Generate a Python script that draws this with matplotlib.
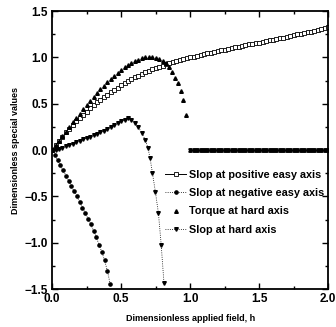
import matplotlib
matplotlib.use("Agg")
import matplotlib.pyplot as plt
from matplotlib.ticker import MultipleLocator

plt.rcParams['font.family'] = ['Liberation Sans', 'DejaVu Sans']
plt.rcParams['font.weight'] = 'bold'

# Slop at positive easy axis
pos_h = [0.000, 0.025, 0.050, 0.075, 0.100, 0.125, 0.150, 0.175, 0.200, 0.225,
         0.250, 0.275, 0.300, 0.325, 0.350, 0.375, 0.400, 0.425, 0.450, 0.475,
         0.500, 0.525, 0.550, 0.575, 0.600, 0.625, 0.650, 0.675, 0.700, 0.725,
         0.750, 0.775, 0.800, 0.825, 0.850, 0.875, 0.900, 0.925, 0.950, 0.975,
         1.000, 1.025, 1.050, 1.075, 1.100, 1.125, 1.150, 1.175, 1.200, 1.225,
         1.250, 1.275, 1.300, 1.325, 1.350, 1.375, 1.400, 1.425, 1.450, 1.475,
         1.500, 1.525, 1.550, 1.575, 1.600, 1.625, 1.650, 1.675, 1.700, 1.725,
         1.750, 1.775, 1.800, 1.825, 1.850, 1.875, 1.900, 1.925, 1.950, 1.975,
         2.000]
pos_v = [0.00, 0.05, 0.10, 0.14, 0.19, 0.23, 0.27, 0.31, 0.345, 0.38,
         0.415, 0.45, 0.485, 0.515, 0.545, 0.575, 0.60, 0.625, 0.65, 0.675,
         0.70, 0.72, 0.745, 0.765, 0.785, 0.805, 0.82, 0.84, 0.855, 0.87,
         0.885, 0.90, 0.91, 0.925, 0.935, 0.95, 0.96, 0.97, 0.98, 0.99,
         1.00, 1.01, 1.02, 1.025, 1.035, 1.045, 1.05, 1.06, 1.07, 1.075,
         1.085, 1.09, 1.10, 1.11, 1.115, 1.125, 1.13, 1.14, 1.145, 1.155,
         1.16, 1.17, 1.175, 1.185, 1.19, 1.20, 1.21, 1.215, 1.225, 1.23,
         1.24, 1.25, 1.255, 1.265, 1.27, 1.28, 1.29, 1.30, 1.31, 1.32,
         1.33]

# Slop at negative easy axis
neg_h = [0.00, 0.02, 0.04, 0.06, 0.08, 0.10, 0.12, 0.14, 0.16, 0.18, 0.20,
         0.22, 0.24, 0.26, 0.28, 0.30, 0.32, 0.34, 0.36, 0.38, 0.40, 0.42]
neg_v = [0.00, -0.05, -0.11, -0.165, -0.22, -0.275, -0.33, -0.39, -0.445, -0.50, -0.56,
         -0.62, -0.68, -0.74, -0.80, -0.87, -0.94, -1.02, -1.10, -1.19, -1.30, -1.44]

# Torque at hard axis
tor_h = [0.000, 0.025, 0.050, 0.075, 0.100, 0.125, 0.150, 0.175, 0.200, 0.225,
         0.250, 0.275, 0.300, 0.325, 0.350, 0.375, 0.400, 0.425, 0.450, 0.475,
         0.500, 0.525, 0.550, 0.575, 0.600, 0.625, 0.650, 0.675, 0.700, 0.725,
         0.750, 0.775, 0.800, 0.825, 0.850, 0.870, 0.890, 0.910, 0.935, 0.950, 0.970]
tor_v = [0.00, 0.05, 0.10, 0.15, 0.20, 0.25, 0.30, 0.345, 0.39, 0.44,
         0.485, 0.53, 0.57, 0.615, 0.655, 0.695, 0.735, 0.77, 0.805, 0.835,
         0.865, 0.895, 0.92, 0.94, 0.96, 0.975, 0.99, 1.00, 1.01, 1.005,
         0.995, 0.98, 0.96, 0.935, 0.90, 0.84, 0.78, 0.72, 0.64, 0.54, 0.38]
tail_h = [1.000, 1.025, 1.050, 1.075, 1.100, 1.125, 1.150, 1.175, 1.200, 1.225,
          1.250, 1.275, 1.300, 1.325, 1.350, 1.375, 1.400, 1.425, 1.450, 1.475,
          1.500, 1.525, 1.550, 1.575, 1.600, 1.625, 1.650, 1.675, 1.700, 1.725,
          1.750, 1.775, 1.800, 1.825, 1.850, 1.875, 1.900, 1.925, 1.950, 1.975,
          2.000]
tail_v = [0.0, 0.0, 0.0, 0.0, 0.0, 0.0, 0.0, 0.0, 0.0, 0.0,
          0.0, 0.0, 0.0, 0.0, 0.0, 0.0, 0.0, 0.0, 0.0, 0.0,
          0.0, 0.0, 0.0, 0.0, 0.0, 0.0, 0.0, 0.0, 0.0, 0.0,
          0.0, 0.0, 0.0, 0.0, 0.0, 0.0, 0.0, 0.0, 0.0, 0.0,
          0.0]

# Slop at hard axis
hard_h = [0.000, 0.025, 0.050, 0.075, 0.100, 0.125, 0.150, 0.175, 0.200, 0.225,
          0.250, 0.275, 0.300, 0.325, 0.350, 0.375, 0.400, 0.425, 0.450, 0.475,
          0.500, 0.525, 0.550, 0.575, 0.600, 0.625, 0.650, 0.675, 0.695, 0.710,
          0.727, 0.748, 0.770, 0.790, 0.810]
hard_v = [0.00, 0.005, 0.015, 0.025, 0.04, 0.055, 0.07, 0.085, 0.10, 0.115,
          0.13, 0.145, 0.16, 0.175, 0.19, 0.21, 0.23, 0.25, 0.27, 0.29,
          0.31, 0.33, 0.345, 0.33, 0.29, 0.25, 0.18, 0.11, 0.02, -0.09,
          -0.25, -0.45, -0.68, -1.02, -1.43]

labels = ["Slop at positive easy axis", "Slop at negative easy axis",
          "Torque at hard axis", "Slop at hard axis"]

fig = plt.figure(figsize=(3.36, 3.27), dpi=100)
ax = fig.add_axes([0.155, 0.116, 0.822, 0.85])

ax.plot(pos_h, pos_v, '-', color='black', lw=0.7, marker='s', ms=2.3,
        mfc='white', mec='black', mew=0.6, label=labels[0])
ax.plot(neg_h, neg_v, ':', color='black', lw=0.6, marker='o', ms=2.3,
        mfc='black', mec='black', label=labels[1])
ax.plot(tor_h, tor_v, color='black', marker='^', ms=2.6,
        mfc='black', mec='black', linestyle='none', label=labels[2])
ax.plot(hard_h, hard_v, ':', color='black', lw=0.6, marker='v', ms=2.6,
        mfc='black', mec='black', label=labels[3])
ax.plot(tail_h, tail_v, linestyle='none', color='black', marker='^', ms=2.4,
        mfc='black', mec='black')
ax.plot(tail_h, tail_v, linestyle='-', color='black', lw=1.0, marker='v', ms=2.4,
        mfc='black', mec='black')

ax.set_xlim(0, 2.0)
ax.set_ylim(-1.5, 1.5)
ax.xaxis.set_major_locator(MultipleLocator(0.5))
ax.xaxis.set_minor_locator(MultipleLocator(0.25))
ax.yaxis.set_major_locator(MultipleLocator(0.5))
ax.yaxis.set_minor_locator(MultipleLocator(0.25))
ax.tick_params(which='both', direction='in', top=True, right=True, width=1.0)
ax.tick_params(which='major', length=4, labelsize=8.5, pad=3)
ax.tick_params(which='minor', length=2)
for s in ax.spines.values():
    s.set_linewidth(1.3)
for t in ax.get_xticklabels() + ax.get_yticklabels():
    t.set_fontweight('bold')

ax.set_xlabel("Dimensionless applied field, h", fontsize=6.5, fontweight='bold', labelpad=6)
ax.set_ylabel("Dimensionless special values", fontsize=6.5, fontweight='bold', labelpad=3)

ax.legend(loc='upper left', bbox_to_anchor=(0.41, 0.43), frameon=False,
          fontsize=7.8, numpoints=1, handlelength=1.9, handletextpad=0.3,
          labelspacing=0.78, borderaxespad=0, borderpad=0)

fig.savefig("out.png", dpi=100)
